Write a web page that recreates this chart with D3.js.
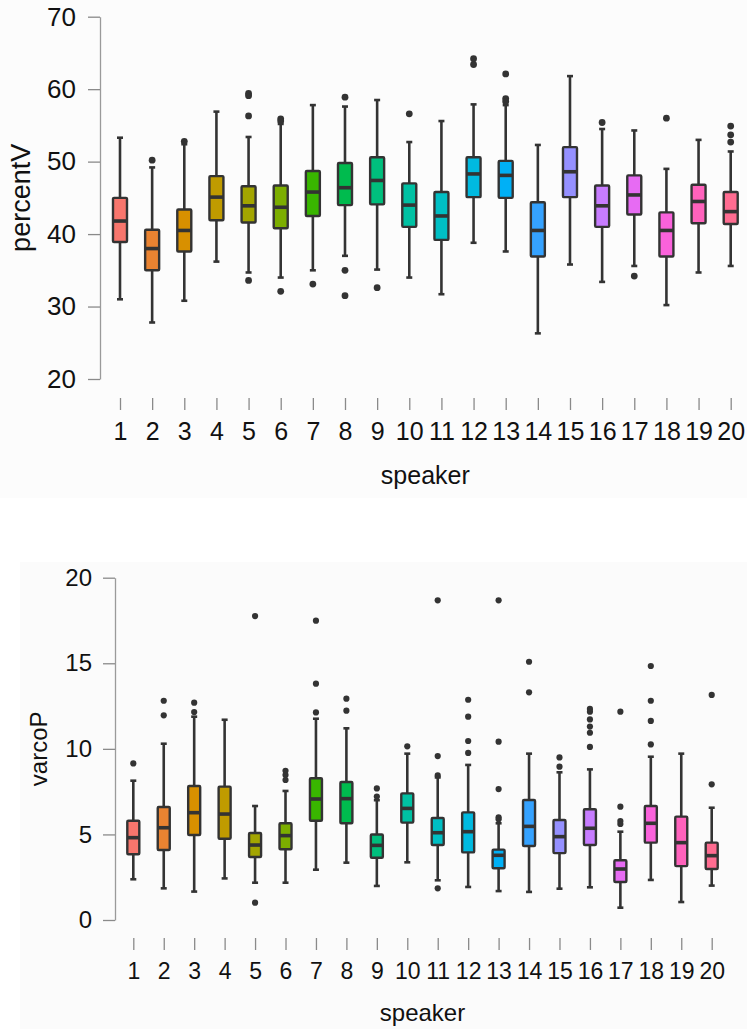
<!DOCTYPE html>
<html>
<head>
<meta charset="utf-8">
<script src="https://cdn.jsdelivr.net/npm/d3@7"></script>
<style>
  html, body { margin: 0; padding: 0; background: #ffffff; }
  svg { display: block; font-family: "Liberation Sans", Arial, sans-serif; }
</style>
</head>
<body>
<svg id="chart" width="747" height="1029"></svg>
<script>
// ---------- data ----------
const speakers = ["1","2","3","4","5","6","7","8","9","10","11","12","13","14","15","16","17","18","19","20"];
const colors = ["#F8766D","#EA8331","#D89000","#C09B00","#A3A500","#7CAE00","#39B600","#00BB4E","#00BF7D","#00C1A3",
                "#00BFC4","#00BAE0","#00B0F6","#35A2FF","#9590FF","#C77CFF","#E76BF3","#FA62DB","#FF62BC","#FF6C91"];

// percentV
const pvLo  = [31.0, 27.8, 30.8, 36.2, 34.7, 34.0, 35.0, 37.0, 35.1, 34.0, 31.7, 38.8, 37.6, 26.3, 35.8, 33.4, 35.6, 30.2, 34.7, 35.6];
const pvQ1  = [38.9, 35.0, 37.6, 41.9, 41.6, 40.8, 42.5, 44.0, 44.1, 41.0, 39.2, 45.1, 45.0, 36.9, 45.1, 41.0, 42.7, 36.9, 41.5, 41.4];
const pvMed = [41.8, 38.0, 40.5, 45.1, 43.9, 43.7, 45.8, 46.4, 47.4, 44.0, 42.5, 48.3, 48.1, 40.5, 48.6, 43.9, 45.4, 40.5, 44.5, 43.1];
const pvQ3  = [45.0, 40.6, 43.4, 48.0, 46.6, 46.7, 48.7, 49.8, 50.6, 47.0, 45.8, 50.6, 50.1, 44.4, 52.0, 46.7, 48.1, 43.0, 46.8, 45.8];
const pvHi  = [53.3, 49.2, 52.4, 56.9, 53.4, 55.2, 57.8, 57.6, 58.5, 52.7, 55.6, 57.9, 57.8, 52.3, 61.8, 54.5, 54.3, 49.0, 53.0, 51.4];
const pvOut = [[], [50.2], [52.8], [], [59.4, 59.1, 56.3, 33.6], [55.9, 55.6, 32.1], [33.1], [58.9, 35.0, 31.5], [32.6], [56.6],
               [], [64.2, 63.4], [62.1, 58.7, 58.3], [], [], [55.4], [34.2], [56.0], [], [54.9, 53.7, 52.7]];
const pvTicks = [20, 30, 40, 50, 60, 70];

// varcoP
const vcLo  = [2.38, 1.85, 1.66, 2.43, 2.18, 2.18, 2.94, 3.35, 1.99, 3.37, 2.32, 1.93, 1.69, 1.64, 1.83, 1.91, 0.72, 2.34, 1.05, 2.01];
const vcQ1  = [3.84, 4.09, 4.97, 4.75, 3.68, 4.13, 5.80, 5.65, 3.64, 5.69, 4.38, 3.95, 3.02, 4.32, 3.91, 4.38, 2.22, 4.52, 3.15, 2.98];
const vcMed = [4.81, 5.39, 6.27, 6.19, 4.38, 4.93, 7.07, 7.09, 4.36, 6.52, 5.10, 5.16, 3.78, 5.47, 4.87, 5.36, 2.98, 5.65, 4.52, 3.76];
const vcQ3  = [5.80, 6.60, 7.83, 7.79, 5.08, 5.65, 8.28, 8.06, 5.00, 7.40, 5.96, 6.29, 4.11, 7.01, 5.84, 6.47, 3.49, 6.66, 6.04, 4.52];
const vcHi  = [8.14, 10.30, 11.88, 11.70, 6.66, 7.54, 11.76, 11.20, 7.00, 9.72, 8.33, 9.06, 5.65, 9.72, 8.63, 8.80, 5.16, 9.54, 9.72, 6.56];
const vcOut = [[9.15], [12.81, 11.96], [12.70, 12.15], [], [17.76, 1.01], [8.72, 8.47, 8.18], [17.49, 13.81, 12.13], [12.93, 12.23], [7.69, 7.21], [10.15],
               [18.68, 9.58, 8.45, 1.85], [12.87, 11.88, 10.46, 9.76], [18.68, 10.42, 7.65, 6.00, 5.88], [15.09, 13.30], [9.50, 8.96],
               [12.33, 12.17, 11.72, 11.30, 10.94, 10.11], [12.17, 6.62, 5.78, 5.61], [14.84, 12.81, 11.63, 10.26], [], [13.15, 7.93]];
const vcTicks = [0, 5, 10, 15, 20];

// ---------- drawing ----------
const svg = d3.select("#chart");
svg.append("rect").attr("x", 0).attr("y", 0).attr("width", 747).attr("height", 498).attr("fill", "#fcfcfc");
svg.append("rect").attr("x", 20).attr("y", 562).attr("width", 727).attr("height", 467).attr("fill", "#fbfbfb");

function drawPanel(cfg) {
  const g = svg.append("g");
  const x = d3.scalePoint().domain(speakers).range([cfg.x0, cfg.x1]);
  const y = d3.scaleLinear().domain(cfg.domain).range([cfg.yBottom, cfg.yTop]);

  // y axis
  const ya = g.append("g").attr("transform", `translate(${cfg.axisX},0)`)
    .call(d3.axisLeft(y).tickValues(cfg.ticks).tickSize(12).tickSizeOuter(0).tickPadding(cfg.yPad));
  ya.select(".domain").attr("stroke", "#9a9a9a").attr("stroke-width", 1.3);
  ya.selectAll(".tick line").attr("stroke", "#8a8a8a").attr("stroke-width", 1.3);
  ya.selectAll(".tick text").attr("font-size", cfg.yFont).attr("fill", "#111")
    .attr("font-family", "Liberation Sans, Arial, sans-serif");

  // x axis (detached)
  const xa = g.append("g").attr("transform", `translate(0,${cfg.xAxisY})`)
    .call(d3.axisBottom(x).tickSize(12).tickPadding(cfg.xPad));
  xa.select(".domain").remove();
  xa.selectAll(".tick line").attr("stroke", "#8a8a8a").attr("stroke-width", 1.3);
  xa.selectAll(".tick text").attr("font-size", cfg.xFont).attr("fill", "#111")
    .attr("font-family", "Liberation Sans, Arial, sans-serif");

  // axis titles
  g.append("text").attr("x", (cfg.x0 + cfg.x1) / 2).attr("y", cfg.xTitleY)
    .attr("text-anchor", "middle").attr("font-size", cfg.titleFont).attr("fill", "#111").text("speaker");
  g.append("text").attr("transform", `translate(${cfg.yTitleX},${(cfg.yTop + cfg.yBottom) / 2}) rotate(-90)`)
    .attr("text-anchor", "middle").attr("font-size", cfg.yTitleFont).attr("fill", "#111").text(cfg.yTitle);

  const bw = cfg.boxW, cw = cfg.capW;
  const idx = d3.range(speakers.length);
  const boxes = g.append("g").selectAll("g").data(idx).join("g");

  // whiskers
  boxes.append("line")
    .attr("x1", i => x(speakers[i])).attr("x2", i => x(speakers[i]))
    .attr("y1", i => y(cfg.lo[i])).attr("y2", i => y(cfg.hi[i]))
    .attr("stroke", "#333").attr("stroke-width", 2.6);
  // caps
  boxes.append("line")
    .attr("x1", i => x(speakers[i]) - cw / 2).attr("x2", i => x(speakers[i]) + cw / 2)
    .attr("y1", i => y(cfg.hi[i])).attr("y2", i => y(cfg.hi[i]))
    .attr("stroke", "#333").attr("stroke-width", 2.6);
  boxes.append("line")
    .attr("x1", i => x(speakers[i]) - cw / 2).attr("x2", i => x(speakers[i]) + cw / 2)
    .attr("y1", i => y(cfg.lo[i])).attr("y2", i => y(cfg.lo[i]))
    .attr("stroke", "#333").attr("stroke-width", 2.6);
  // box
  boxes.append("rect")
    .attr("x", i => x(speakers[i]) - bw / 2).attr("width", bw)
    .attr("y", i => y(cfg.q3[i])).attr("height", i => y(cfg.q1[i]) - y(cfg.q3[i]))
    .attr("fill", i => colors[i]).attr("stroke", "#333").attr("stroke-width", 2.4).attr("rx", 1);
  // median
  boxes.append("line")
    .attr("x1", i => x(speakers[i]) - bw / 2).attr("x2", i => x(speakers[i]) + bw / 2)
    .attr("y1", i => y(cfg.med[i])).attr("y2", i => y(cfg.med[i]))
    .attr("stroke", "#333").attr("stroke-width", 3.6);
  // outliers
  boxes.selectAll("circle").data(i => cfg.out[i].map(v => ({ i, v }))).join("circle")
    .attr("cx", d => x(speakers[d.i])).attr("cy", d => y(d.v)).attr("r", cfg.dotR).attr("fill", "#333");
}

drawPanel({
  x0: 120, x1: 730.7, yTop: 16.7, yBottom: 379, domain: [20, 70], ticks: pvTicks,
  axisX: 100, yPad: 12, yFont: 26, xAxisY: 398, xPad: 12, xFont: 25,
  xTitleY: 484, yTitleX: 30, titleFont: 25, yTitleFont: 27, yTitle: "percentV",
  lo: pvLo, q1: pvQ1, med: pvMed, q3: pvQ3, hi: pvHi, out: pvOut,
  boxW: 14, capW: 6, dotR: 3.4
});

drawPanel({
  x0: 133.3, x1: 711.7, yTop: 577.7, yBottom: 920, domain: [0, 20], ticks: vcTicks,
  axisX: 115, yPad: 11, yFont: 24, xAxisY: 938, xPad: 12.5, xFont: 23,
  xTitleY: 1021, yTitleX: 47, titleFont: 24, yTitleFont: 24, yTitle: "varcoP",
  lo: vcLo, q1: vcQ1, med: vcMed, q3: vcQ3, hi: vcHi, out: vcOut,
  boxW: 12, capW: 6, dotR: 3.1
});
</script>
</body>
</html>
